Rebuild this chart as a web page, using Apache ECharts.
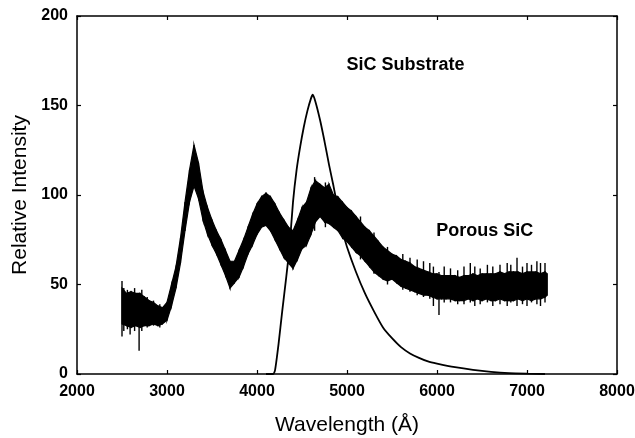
<!DOCTYPE html>
<html><head><meta charset="utf-8">
<script src="https://cdn.jsdelivr.net/npm/echarts@6/dist/echarts.min.js"></script>
<style>html,body{margin:0;padding:0;background:#fff}#c{width:635px;height:438px}</style>
</head><body><div id="c"></div>
<script>
// Axis ticks
const xTicks = [2000, 3000, 4000, 5000, 6000, 7000, 8000];
const yTicks = [0, 50, 100, 150, 200];

// SiC substrate (smooth curve)
const substrateWavelength = [4100, 4180, 4200, 4240, 4280, 4320, 4360, 4400, 4440, 4480, 4520, 4560, 4600, 4620, 4650, 4700, 4750, 4800, 4850, 4900, 4950, 5000, 5100, 5200, 5300, 5400, 5500, 5600, 5700, 5800, 5900, 6000, 6200, 6400, 6600, 6800, 7000, 7200];
const substrateIntensity  = [0, 0, 2, 17, 35, 52, 70, 96, 114, 127, 138, 147, 154, 156, 152, 142, 130, 117, 105, 92, 80, 71, 57, 45, 35, 26, 20, 15, 11.5, 9, 7, 5.8, 3.8, 2.3, 1.2, 0.5, 0.2, 0];

// Porous SiC: core of the noisy trace (lower and upper edge)
const porousWavelength = [2500,2550,2600,2650,2700,2750,2800,2850,2900,2950,3000,3050,3100,3150,3200,3250,3300,3350,3400,3450,3500,3550,3600,3650,3700,3750,3800,3850,3900,3950,4000,4050,4100,4150,4200,4250,4300,4350,4400,4450,4500,4550,4600,4650,4700,4750,4800,4850,4900,4950,5000,5050,5100,5150,5200,5250,5300,5350,5400,5450,5500,5550,5600,5650,5700,5750,5800,5850,5900,5950,6000,6050,6100,6150,6200,6250,6300,6350,6400,6450,6500,6550,6600,6650,6700,6750,6800,6850,6900,6950,7000,7050,7100,7150,7200,7225];
const porousLow  = [28,27,26,27,26,27,27,28,27,28,30,38,48,62,80,96,105,98,86,78,72,67,61,55,48,51,54,60,67,72,78,82,83,80,75,70,65,62,59,64,70,72,78,85,88,85,84,82,80,76,74,71,68,66,63,60,57,55,53,52,53,51,49,48,47,46,45,44,44,43,42,42,42,42,41,41,41,42,41,42,41,42,41,41,42,41,41,41,42,41,42,41,42,42,43,44];
const porousHigh = [48,45,46,45,45,43,41,40,38,37,40,50,60,76,96,114,128,118,102,93,86,80,75,69,63,63,69,75,82,89,95,99,101,99,95,90,86,82,80,86,93,96,104,108,106,104,106,100,99,96,93,91,88,85,82,80,77,74,71,69,67,66,64,63,62,60,59,58,57,56,56,55,55,55,55,54,55,55,56,55,56,56,56,56,57,56,57,57,57,56,57,57,57,56,57,56];

// Porous SiC: individual noise spikes [wavelength, low, high]
const porousSpikes = [
  [2500, 21, 52], [2520, 24, 48], [2560, 25, 47], [2590, 22, 45], [2640, 24, 48], [2690, 13, 44],
  [2720, 24, 47], [2780, 26, 43], [2850, 27, 41], [2920, 26, 39], [4640, 80, 110], [4760, 82, 107],
  [5150, 64, 88], [5300, 56, 79], [5450, 50, 71], [5620, 47, 67], [5700, 46, 65], [5780, 44, 64],
  [5850, 43, 63], [5920, 42, 62], [5960, 38, 60], [6022, 33, 57], [6080, 40, 60], [6150, 40, 59],
  [6230, 39, 58], [6300, 39, 60], [6370, 40, 62], [6420, 38, 60], [6480, 39, 59], [6560, 40, 61],
  [6620, 38, 60], [6700, 39, 61], [6780, 38, 62], [6820, 40, 61], [6889, 38, 65], [6950, 39, 60],
  [7000, 38, 62], [7050, 40, 61], [7110, 39, 63], [7150, 38, 62], [7200, 40, 62]
];

// Annotations
const labelTexts = ['SiC Substrate', 'Porous SiC'];
const labelCoords = [[5650, 172.5], [6530, 80]];

const chart = echarts.init(document.getElementById('c'));
const zip = (xs, ys) => xs.map((x, i) => [x, ys[i]]);
const bandSegments = porousWavelength.slice(0, -1).map((x, i) =>
  [x, porousLow[i], porousHigh[i], porousWavelength[i + 1], porousLow[i + 1], porousHigh[i + 1]]);
const FONT = 'Liberation Sans, Arial, sans-serif';
const axisLine = { show: true, onZero: false, lineStyle: { color: '#000', width: 1.5 } };
const tick = { show: true, inside: true, length: 4, lineStyle: { color: '#000', width: 1.2 } };
const plain = v => String(v);

chart.setOption({
  animation: false,
  backgroundColor: '#fff',
  grid: { left: 77, right: 18, top: 16, bottom: 64, containLabel: false, outerBoundsMode: 'none' },
  xAxis: [{
    type: 'value', min: xTicks[0], max: xTicks[xTicks.length - 1], interval: xTicks[1] - xTicks[0],
    position: 'bottom', axisLine, axisTick: tick, splitLine: { show: false },
    axisLabel: { color: '#000', fontSize: 16, fontWeight: 'bold', fontFamily: FONT, margin: 10, formatter: plain },
    name: 'Wavelength (Å)', nameLocation: 'middle', nameGap: 41,
    nameTextStyle: { color: '#000', fontSize: 21, fontFamily: FONT }
  }, {
    type: 'value', min: xTicks[0], max: xTicks[xTicks.length - 1], interval: xTicks[1] - xTicks[0],
    position: 'top', axisLine, axisTick: tick, splitLine: { show: false }, axisLabel: { show: false }
  }],
  yAxis: [{
    type: 'value', min: yTicks[0], max: yTicks[yTicks.length - 1], interval: yTicks[1] - yTicks[0],
    position: 'left', axisLine, axisTick: tick, splitLine: { show: false },
    axisLabel: { color: '#000', fontSize: 16, fontWeight: 'bold', fontFamily: FONT, margin: 9, formatter: plain },
    name: 'Relative Intensity', nameLocation: 'middle', nameGap: 46,
    nameTextStyle: { color: '#000', fontSize: 21, fontFamily: FONT }
  }, {
    type: 'value', min: yTicks[0], max: yTicks[yTicks.length - 1], interval: yTicks[1] - yTicks[0],
    position: 'right', axisLine, axisTick: tick, splitLine: { show: false }, axisLabel: { show: false }
  }],
  series: [{
    type: 'custom', name: 'porous', data: bandSegments,
    encode: { x: [0, 3], y: [1, 2, 4, 5] },
    renderItem: (params, api) => {
      const a = api.coord([api.value(0), api.value(1)]);
      const b = api.coord([api.value(3), api.value(4)]);
      const c = api.coord([api.value(3), api.value(5)]);
      const d = api.coord([api.value(0), api.value(2)]);
      return { type: 'polygon', shape: { points: [a, b, c, d] },
        style: { fill: '#000', stroke: '#000', lineWidth: 1.2 } };
    }
  }, {
    type: 'custom', name: 'porousSpikes', data: porousSpikes,
    encode: { x: 0, y: [1, 2] },
    renderItem: (params, api) => {
      const lo = api.coord([api.value(0), api.value(1)]);
      const hi = api.coord([api.value(0), api.value(2)]);
      return { type: 'line', shape: { x1: lo[0], y1: lo[1], x2: hi[0], y2: hi[1] },
        style: { stroke: '#000', lineWidth: 1.4 } };
    }
  }, {
    type: 'line', name: 'substrate', data: zip(substrateWavelength, substrateIntensity),
    symbol: 'none', smooth: 0.2, lineStyle: { color: '#000', width: 1.8 }
  }, {
    type: 'scatter', name: 'labels', symbolSize: 1, silent: true,
    itemStyle: { color: 'rgba(0,0,0,0)', opacity: 1 },
    data: labelCoords.map((c, i) => ({ value: c, name: labelTexts[i] })),
    label: { show: true, position: 'inside', formatter: p => p.name, color: '#000', textBorderWidth: 0,
      fontSize: 18, fontWeight: 'bold', fontFamily: FONT }
  }]
});
</script>
</body></html>
